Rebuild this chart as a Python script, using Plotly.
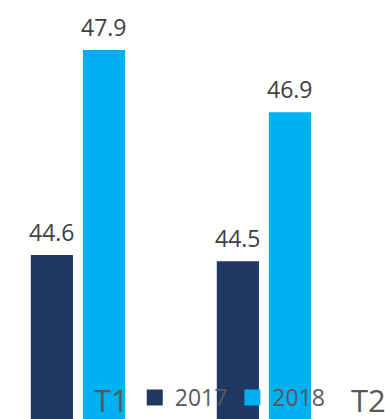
import plotly.graph_objects as go

# Quarterly values by year
categories = ["T1", "T2"]
years = ["2017", "2018"]
values_2017 = [44.6, 44.5]
values_2018 = [47.9, 46.9]

colors = {"2017": "#203864", "2018": "#00B0F0"}
series = {"2017": values_2017, "2018": values_2018}

FONT = "Open Sans"
LABEL_COLOR = "#404040"

fig = go.Figure()

for yr in years:
    fig.add_trace(go.Bar(
        x=categories, y=series[yr], name=yr,
        marker=dict(color=colors[yr], line=dict(width=0)),
        showlegend=False,
    ))
    # legend entry with a larger square swatch
    fig.add_trace(go.Scatter(
        x=[None], y=[None], mode="markers", name=yr,
        marker=dict(symbol="square", size=16, color=colors[yr]),
        showlegend=True,
    ))

# value labels above each bar
offsets = {"2017": -26, "2018": 26}
annotations = []
for yr in years:
    for cat, val in zip(categories, series[yr]):
        annotations.append(dict(
            x=cat, y=val, xref="x", yref="y", text=f"{val:.1f}",
            showarrow=False, xshift=offsets[yr], yanchor="bottom", yshift=5,
            font=dict(family=FONT, size=23, color=LABEL_COLOR),
        ))

# category captions along the bottom
cat_shift = {"T1": 34, "T2": 105}
for cat in categories:
    annotations.append(dict(
        x=cat, y=0, xref="x", yref="paper", text=cat,
        showarrow=False, xshift=cat_shift[cat], yanchor="bottom", yshift=-4,
        font=dict(family=FONT, size=31, color="#595959"),
    ))

fig.update_layout(
    width=385, height=419,
    margin=dict(l=0, r=0, t=0, b=0),
    paper_bgcolor="white", plot_bgcolor="white",
    barmode="group", bargap=0.44, bargroupgap=0.19,
    showlegend=True,
    legend=dict(
        orientation="h", x=0.35, xanchor="left", y=0.0, yanchor="bottom",
        font=dict(family=FONT, size=23, color="#595959"),
        bgcolor="rgba(0,0,0,0)", itemclick=False,
    ),
    xaxis=dict(range=[-0.419, 1.651], showticklabels=False, showgrid=False,
               zeroline=False, showline=False, ticks=""),
    yaxis=dict(range=[41.96, 48.705], showticklabels=False, showgrid=False,
               zeroline=False, showline=False, ticks=""),
    annotations=annotations,
)

fig.write_html("out.html")
